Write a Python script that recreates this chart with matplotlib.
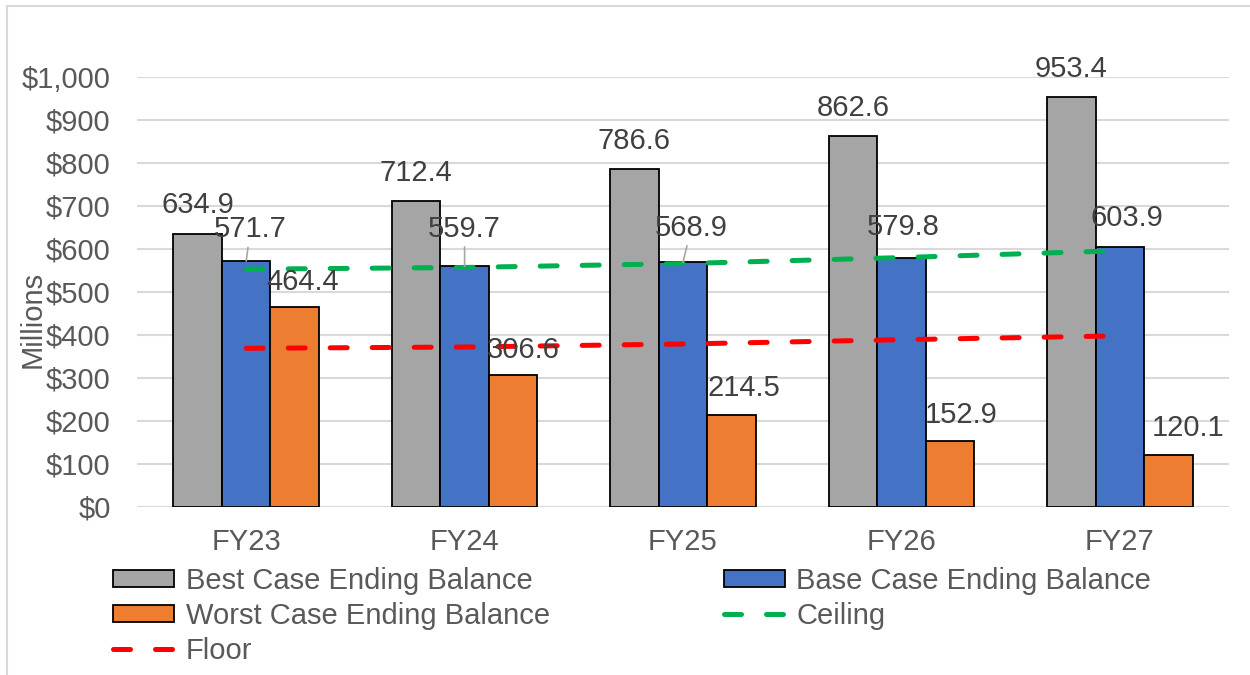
import matplotlib
matplotlib.use("Agg")
import matplotlib.pyplot as plt
import matplotlib.patches as mpatches
import numpy as np
from matplotlib.ticker import FuncFormatter

plt.rcParams['font.family'] = ['Liberation Sans', 'DejaVu Sans']

# ---- data ----
years = ["FY23", "FY24", "FY25", "FY26", "FY27"]
best_case = [634.9, 712.4, 786.6, 862.6, 953.4]
base_case = [571.7, 559.7, 568.9, 579.8, 603.9]
worst_case = [464.4, 306.6, 214.5, 152.9, 120.1]
ceiling = [553, 557, 566, 580, 596]
floor = [369, 372, 379, 389, 398]

# ---- label placement (x/y offsets in points from each bar top) ----
best_off = [(0, 21), (0, 20), (0, 20), (0, 20), (0, 20)]
base_off = [(3, 23), (0, 27), (6, 25), (1, 22), (5, 21)]
worst_off = [(6, 18), (7, 18), (9, 19), (8, 19), (14, 20)]
base_leader = [True, True, True, False, False]

GRAY = "#A5A5A5"
BLUE = "#4472C4"
ORANGE = "#ED7D31"
GREEN = "#00B050"
RED = "#FF0000"
TXT = "#595959"
LBL = "#404040"
GRID = "#D9D9D9"
FS = 21

fig = plt.figure(figsize=(12.5, 6.75), dpi=100)
ax = fig.add_axes([0.1096, 0.2489, 0.8736, 0.6371])

x = np.arange(len(years))
w = 0.2225
bar_kw = dict(width=w, edgecolor="black", linewidth=1.3, zorder=3)
b1 = ax.bar(x - w, best_case, color=GRAY, label="Best Case Ending Balance", **bar_kw)
b2 = ax.bar(x, base_case, color=BLUE, label="Base Case Ending Balance", **bar_kw)
b3 = ax.bar(x + w, worst_case, color=ORANGE, label="Worst Case Ending Balance", **bar_kw)

dash = (0, (3.4, 5.0))
l_ceil, = ax.plot(x, ceiling, color=GREEN, lw=3.6, linestyle=dash,
                  dash_capstyle="round", label="Ceiling", zorder=4)
l_floor, = ax.plot(x, floor, color=RED, lw=3.6, linestyle=dash,
                   dash_capstyle="round", label="Floor", zorder=4)

def put_labels(xs, vals, offs, leaders=None):
    for i, (xi, v, off) in enumerate(zip(xs, vals, offs)):
        kw = {}
        if leaders is not None and leaders[i]:
            kw["arrowprops"] = dict(arrowstyle="-", color="#A6A6A6", lw=1.2,
                                    shrinkA=1, shrinkB=0)
        ax.annotate(f"{v:.1f}", xy=(xi, v), xytext=off, textcoords="offset points",
                    ha="center", va="center", fontsize=FS, color=LBL,
                    zorder=6, **kw)

put_labels(x - w, best_case, best_off)
put_labels(x, base_case, base_off, base_leader)
put_labels(x + w, worst_case, worst_off)

ax.set_xlim(-0.5, len(years) - 0.5)
ax.set_ylim(0, 1000)
ax.set_yticks(np.arange(0, 1001, 100))
ax.yaxis.set_major_formatter(FuncFormatter(lambda v, p: f"${v:,.0f}"))
ax.set_xticks(x)
ax.set_xticklabels(years)
ax.tick_params(axis="both", length=0, labelsize=FS, labelcolor=TXT)
ax.tick_params(axis="y", pad=19)
ax.tick_params(axis="x", pad=15)
ax.grid(axis="y", color=GRID, linewidth=1.5, zorder=0)
ax.set_axisbelow(True)
for s in ax.spines.values():
    s.set_visible(False)

ax.set_ylabel("Millions", fontsize=FS, color=TXT)
ax.yaxis.set_label_coords(-0.0824, 0.435)

# legend laid out row-wise: Best | Base / Worst | Ceiling / Floor
handles = [b1, b3, l_floor, b2, l_ceil]
labels = [h.get_label() for h in handles]
fig.legend(handles, labels, loc="upper left", bbox_to_anchor=(0.0904, 0.160),
           ncol=2, frameon=False, fontsize=FS, labelcolor=TXT,
           handlelength=2.1, handleheight=0.55, handletextpad=0.4,
           columnspacing=5.95, labelspacing=0.24, borderpad=0, borderaxespad=0)

# outer chart border
fig.patches.append(mpatches.Rectangle((7 / 1250, -0.05), 1.2, 0.9911 + 0.05,
                                      transform=fig.transFigure, fill=False,
                                      edgecolor=GRID, linewidth=1.5))

fig.savefig("out.png", dpi=100)
